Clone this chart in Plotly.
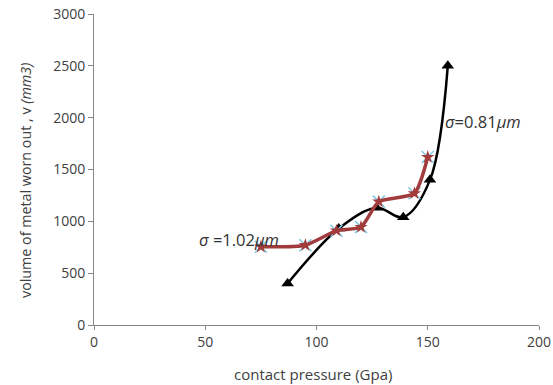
import plotly.graph_objects as go

# Data
black_x = [87, 110, 127, 139, 151, 159]
black_y = [400, 930, 1130, 1040, 1400, 2500]
red_x = [75, 95, 109, 120, 128, 144, 150]
red_y = [755, 770, 910, 945, 1190, 1270, 1620]
x_ticks = [0, 50, 100, 150, 200]
y_ticks = [0, 500, 1000, 1500, 2000, 2500, 3000]

FONT = "Open Sans"
TXT = "#404040"

fig = go.Figure()
fig.add_trace(go.Scatter(
    x=black_x, y=black_y, mode="lines+markers",
    line=dict(color="black", width=2.5, shape="spline", smoothing=1),
    marker=dict(symbol="triangle-up", size=11, color="black"),
    showlegend=False))
fig.add_trace(go.Scatter(
    x=red_x, y=red_y, mode="markers",
    marker=dict(symbol="x-thin", size=12, line=dict(color="#7EC8E3", width=1.5)),
    showlegend=False))
fig.add_trace(go.Scatter(
    x=red_x, y=red_y, mode="lines+markers",
    line=dict(color="#A23B3B", width=3.5, shape="spline", smoothing=0.6),
    marker=dict(symbol="star", size=10, color="#A23B3B"),
    showlegend=False))

fig.add_annotation(x=46.3, y=823, xref="x", yref="y",
                   text="<i>σ</i> =1.02<i>μm</i>", showarrow=False,
                   xanchor="left", yanchor="middle",
                   font=dict(family=FONT, size=16.5, color="#333333"))
fig.add_annotation(x=156.8, y=1964, xref="x", yref="y",
                   text="<i>σ</i>=0.81<i>μm</i>", showarrow=False,
                   xanchor="left", yanchor="middle",
                   font=dict(family=FONT, size=16.5, color="#333333"))

W, H = 553 - 94 - 14, 385 - 14 - 60
fig.add_annotation(x=(313 - 94) / W, y=(385 - 60 - 374) / H, xref="paper", yref="paper",
                   text="contact pressure (Gpa)", showarrow=False,
                   xanchor="center", yanchor="middle",
                   font=dict(family=FONT, size=15, color=TXT))
fig.add_annotation(x=(25 - 94) / W, y=(385 - 60 - 181) / H, xref="paper", yref="paper",
                   text="volume of metal worn out , v <i>(mm3)</i>", showarrow=False,
                   textangle=-90, xanchor="center", yanchor="middle",
                   font=dict(family=FONT, size=14.3, color=TXT))

fig.update_layout(
    width=553, height=385,
    margin=dict(l=94, r=14, t=14, b=60),
    plot_bgcolor="white", paper_bgcolor="white",
    font=dict(family=FONT, size=14, color=TXT),
)
fig.update_xaxes(range=[0, 200], tickvals=x_ticks, showgrid=False, zeroline=False,
                 showline=True, linecolor="#868686", linewidth=1,
                 ticks="outside", tickcolor="#868686", ticklen=4, automargin=False)
fig.update_yaxes(range=[0, 3000], tickvals=y_ticks, showgrid=False, zeroline=False,
                 showline=True, linecolor="#868686", linewidth=1,
                 ticks="outside", tickcolor="#868686", ticklen=5, automargin=False)

fig.write_html("out.html", config={"displayModeBar": False},
               post_script="document.body.style.margin='0';")
